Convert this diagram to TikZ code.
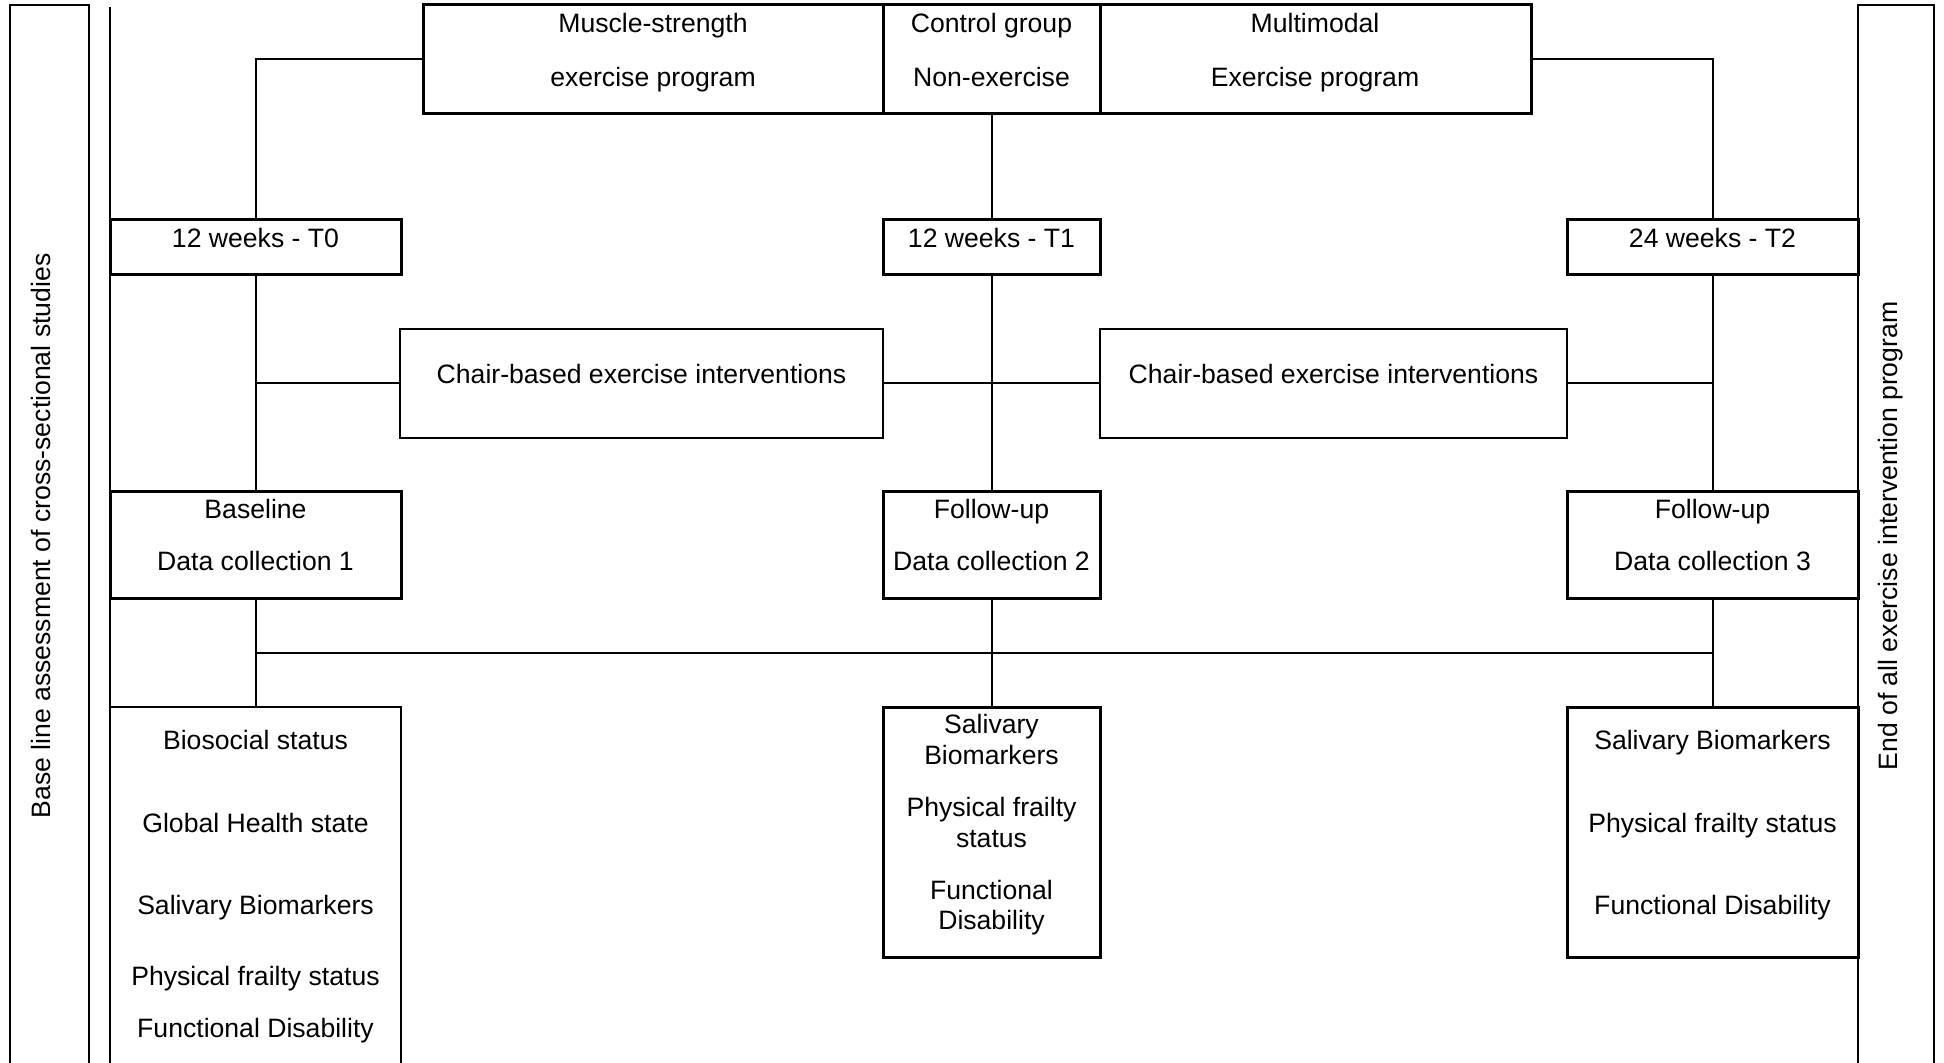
\documentclass[tikz,border=0pt]{standalone}
\usepackage{fontspec}
\setmainfont{Liberation Sans}
\usetikzlibrary{fit}
\tikzset{
  bx/.style={draw, line width=1.5pt, inner sep=0pt, outer sep=0pt},
  midbx/.style={draw, line width=1.25pt, inner sep=0pt, outer sep=0pt},
  thinbx/.style={draw, line width=1pt, inner sep=0pt, outer sep=0pt},
  tallbx/.style={draw, line width=1.25pt, inner sep=0pt, outer sep=0pt},
  conn/.style={line width=1pt},
  lbl/.style={font=\fontsize{13.3}{15}\selectfont, inner sep=0pt, text height=9.5pt, text depth=0pt},
}
\begin{document}
\begin{tikzpicture}[x=0.5pt,y=-0.5pt]
\useasboundingbox (0,0) rectangle (1944,1063);
\clip (0,0) rectangle (1944,1063);

% side bars
\node[tallbx, fit={(10,5) (89,1080)}] (lbar) {};
\node[tallbx, fit={(1858,5) (1934,1080)}] (rbar) {};

% top group boxes
\node[bx, fit={(423,5) (883,114)}] (ms) {};
\node[bx, fit={(883,5) (1100,114)}] (cg) {};
\node[bx, fit={(1100,5) (1531,114)}] (mm) {};

% time boxes
\node[bx, fit={(110,220) (401,275)}] (t0) {};
\node[bx, fit={(883,220) (1100,275)}] (t1) {};
\node[bx, fit={(1567,220) (1858,275)}] (t2) {};

% chair boxes
\node[midbx, fit={(400,329) (883,438)}] (ch1) {};
\node[midbx, fit={(1100,329) (1567,438)}] (ch2) {};

% data collection boxes
\node[bx, fit={(110,492) (401,599)}] (d1) {};
\node[bx, fit={(883,492) (1100,599)}] (d2) {};
\node[bx, fit={(1567,492) (1858,599)}] (d3) {};

% outcome boxes
\node[thinbx, fit={(110,707) (401,1080)}] (o1) {};
\node[bx, fit={(883,707) (1100,957)}] (o2) {};
\node[bx, fit={(1567,707) (1858,957)}] (o3) {};

% texts
\node[lbl, rotate=90] (lt) at (41,536) {Base line assessment of cross-sectional studies};
\node[lbl, rotate=90] (rt) at (1888,536) {End of all exercise intervention program};

\node[lbl] (ms1) at (653,23.5) {Muscle-strength};
\node[lbl] (ms2) at (653,77) {exercise program};
\node[lbl] (cg1) at (991.5,23.5) {Control group};
\node[lbl] (cg2) at (991.5,77) {Non-exercise};
\node[lbl] (mm1) at (1315,23.5) {Multimodal};
\node[lbl] (mm2) at (1315,77) {Exercise program};

\node[lbl] (t0l) at (255.5,238) {12 weeks - T0};
\node[lbl] (t1l) at (991.5,238) {12 weeks - T1};
\node[lbl] (t2l) at (1712.5,238) {24 weeks - T2};

\node[lbl] (ch1l) at (641.5,374) {Chair-based exercise interventions};
\node[lbl] (ch2l) at (1333.5,374) {Chair-based exercise interventions};

\node[lbl] (d1a) at (255.5,509.5) {Baseline};
\node[lbl] (d1b) at (255.5,561.5) {Data collection 1};
\node[lbl] (d2a) at (991.5,509.5) {Follow-up};
\node[lbl] (d2b) at (991.5,561.5) {Data collection 2};
\node[lbl] (d3a) at (1712.5,509.5) {Follow-up};
\node[lbl] (d3b) at (1712.5,561.5) {Data collection 3};

\node[lbl] (o1a) at (255.5,740) {Biosocial status};
\node[lbl] (o1b) at (255.5,823) {Global Health state};
\node[lbl] (o1c) at (255.5,905) {Salivary Biomarkers};
\node[lbl] (o1d) at (255.5,976) {Physical frailty status};
\node[lbl] (o1e) at (255.5,1028) {Functional Disability};

\node[lbl] (o2a) at (991.5,724) {Salivary};
\node[lbl] (o2b) at (991.5,755) {Biomarkers};
\node[lbl] (o2c) at (991.5,807) {Physical frailty};
\node[lbl] (o2d) at (991.5,838) {status};
\node[lbl] (o2e) at (991.5,890) {Functional};
\node[lbl] (o2f) at (991.5,920) {Disability};

\node[lbl] (o3a) at (1712.5,740) {Salivary Biomarkers};
\node[lbl] (o3b) at (1712.5,823) {Physical frailty status};
\node[lbl] (o3c) at (1712.5,905) {Functional Disability};

% connectors
\coordinate (vtop) at (110,7);
\coordinate (vbot) at (110,1075);
\draw[conn] (vtop) -- (vbot);
\draw[conn] (ms.west) -| (t0.north);
\draw[conn] (mm.east) -| (t2.north);
\draw[conn] (cg.south) -- (t1.north);
\draw[conn] (t0.south) -- (d1.north);
\draw[conn] (t1.south) -- (d2.north);
\draw[conn] (t2.south) -- (d3.north);
\draw[conn] (ch1.west) -- (ch1.west -| t0.south);
\draw[conn] (ch1.east) -- (ch2.west);
\draw[conn] (ch2.east) -- (ch2.east -| t2.south);
\draw[conn] (d1.south) -- (o1.north);
\draw[conn] (d2.south) -- (o2.north);
\draw[conn] (d3.south) -- (o3.north);
\coordinate (hl) at (0,653);
\draw[conn] (d1.south |- hl) -- (d3.south |- hl);
\end{tikzpicture}
\end{document}
